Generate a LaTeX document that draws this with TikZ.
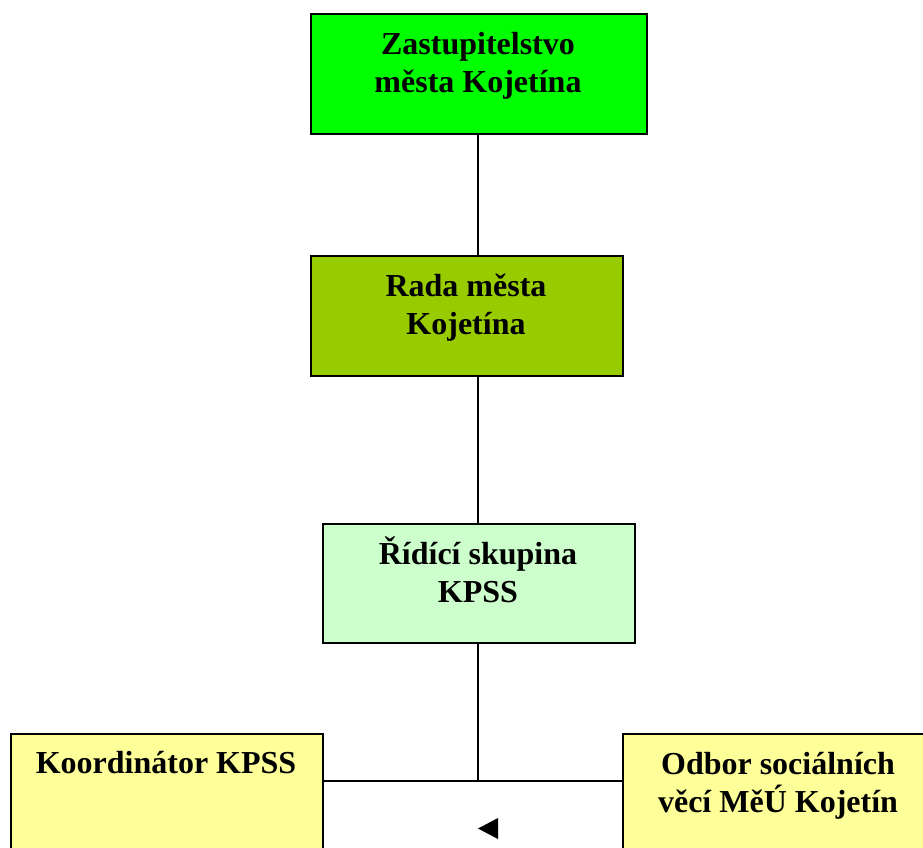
\documentclass[tikz,border=0pt]{standalone}
\usepackage{fontspec}
\setmainfont{Liberation Serif}
\definecolor{cgreen}{HTML}{00FF00}
\definecolor{colive}{HTML}{99CC00}
\definecolor{cpale}{HTML}{CCFFCC}
\definecolor{cyellow}{HTML}{FFFF99}
\tikzset{
  orgbox/.style={draw=black, line width=1.3pt, rectangle, inner sep=0pt, anchor=north west},
  orgtext/.style={font=\fontsize{24}{28.5}\selectfont\bfseries, align=center, anchor=base, inner sep=0pt},
  conn/.style={draw=black, line width=1pt}
}
\begin{document}
\begin{tikzpicture}[x=0.75pt,y=-0.75pt]
\useasboundingbox (0,0) rectangle (923,847);
\clip (0,0) rectangle (923,847);
% boxes
\node[orgbox, fill=cgreen, minimum width=336*0.75pt, minimum height=120*0.75pt] (b1) at (310,13) {};
\node[orgbox, fill=colive, minimum width=312*0.75pt, minimum height=120*0.75pt] (b2) at (310,255) {};
\node[orgbox, fill=cpale, minimum width=312*0.75pt, minimum height=119*0.75pt] (b3) at (322,523) {};
\node[orgbox, fill=cyellow, minimum width=312*0.75pt, minimum height=160*0.75pt] (b4) at (10,733) {};
\node[orgbox, fill=cyellow, minimum width=312*0.75pt, minimum height=160*0.75pt] (b5) at (622,733) {};
% texts (base anchor = last line baseline)
\node[orgtext] (t1) at (478,92) {Zastupitelstvo\\města Kojetína};
\node[orgtext] (t2) at (466,334) {Rada města\\Kojetína};
\node[orgtext] (t3) at (478,602) {Řídící skupina\\KPSS};
\node[orgtext] (t4) at (166,773) {Koordinátor KPSS};
\node[orgtext] (t5) at (778,812) {Odbor sociálních\\věcí MěÚ Kojetín};
% connectors
\coordinate (j) at (478,781);
\draw[conn] (b1.south -| j) -- (b2.north -| j);
\draw[conn] (b2.south -| j) -- (b3.north -| j);
\draw[conn] (b3.south -| j) -- (j);
\draw[conn] (b4.east |- j) -- (b5.west |- j);
% small arrowhead
\fill[black] (478,828.5) -- (498,818) -- (498,839) -- cycle;
\end{tikzpicture}
\end{document}
